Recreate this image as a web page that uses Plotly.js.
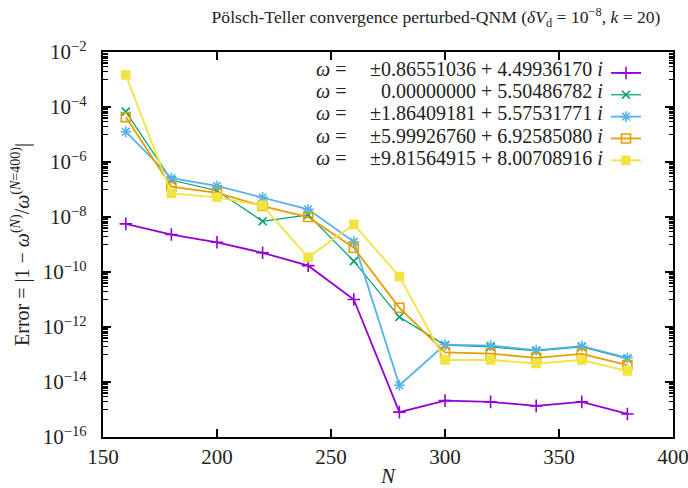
<!DOCTYPE html>
<html>
<head>
<meta charset="utf-8">
<script src="https://cdn.plot.ly/plotly-3.0.1.min.js"></script>
<style>
  html, body { margin: 0; padding: 0; background: #fff; }
  #chart { width: 688px; height: 488px; }
</style>
</head>
<body>
<div id="chart"></div>
<script>
// Resolution N of the spectral grid
const resolutions = [160, 180, 200, 220, 240, 260, 280, 300, 320, 340, 360, 380];

// Relative error |1 - w(N)/w(N=400)| for each tracked overtone
const errMode1 = [5.6e-9, 2.3e-9, 1.2e-9, 5.0e-10, 1.7e-10, 1.0e-11, 8.0e-16, 2.1e-15, 1.9e-15, 1.35e-15, 1.9e-15, 6.9e-16];
const errMode2 = [6.8e-5, 2.2e-7, 9.0e-8, 7.0e-9, 1.2e-8, 2.5e-10, 2.3e-12, 2.2e-13, 1.9e-13, 1.35e-13, 1.9e-13, 7.0e-14];
const errMode3 = [1.26e-5, 2.6e-7, 1.35e-7, 5.2e-8, 1.9e-8, 1.26e-9, 7.6e-15, 2.3e-13, 2.1e-13, 1.45e-13, 2.0e-13, 7.6e-14];
const errMode4 = [4.3e-5, 1.26e-7, 7.6e-8, 2.5e-8, 1.0e-8, 7.6e-10, 5.0e-12, 1.2e-13, 1.07e-13, 7.6e-14, 1.05e-13, 4.1e-14];
const errMode5 = [1.45e-3, 7.2e-8, 5.2e-8, 2.6e-8, 3.4e-10, 5.4e-9, 6.9e-11, 6.3e-14, 6.3e-14, 4.7e-14, 6.3e-14, 2.5e-14];

// Reference frequencies (real part, imaginary part)
const modeReal = ["\u00b10.86551036", "0.00000000", "\u00b11.86409181", "\u00b15.99926760", "\u00b19.81564915"];
const modeImag = ["4.49936170", "5.50486782", "5.57531771", "6.92585080", "8.00708916"];

// Axis ticks
const xTicks = [150, 200, 250, 300, 350, 400];
const yTickVals = [1e-16, 1e-14, 1e-12, 1e-10, 1e-8, 1e-6, 1e-4, 1e-2];
const yTickText = ["10<sup>\u221216</sup>", "10<sup>\u221214</sup>", "10<sup>\u221212</sup>", "10<sup>\u221210</sup>",
                   "10<sup>\u22128</sup>", "10<sup>\u22126</sup>", "10<sup>\u22124</sup>", "10<sup>\u22122</sup>"];

const W = 688, H = 488;
const M = { l: 103, r: 15, t: 52, b: 51 };
const PW = W - M.l - M.r, PH = H - M.t - M.b;
const px = x => (x - M.l) / PW;          // pixel -> paper x
const py = y => 1 - (y - M.t) / PH;      // pixel -> paper y

const SERIF = "'Liberation Serif', 'Times New Roman', serif";
const INK = "#222";
const X_RANGE = [150, 400];
const Y_RANGE = [-16, -2];

const styles = [
  { color: "#9400d3", symbol: "cross-thin-open", size: 9, lw: 1.8 },
  { color: "#009e73", symbol: "x-thin-open", size: 8, lw: 1.2 },
  { color: "#56b4e9", symbol: "asterisk-open", size: 9, lw: 1.8 },
  { color: "#e69f00", symbol: "square-open", size: 9, lw: 1.8 },
  { color: "#f0e442", symbol: "square", size: 8, lw: 1.8 }
];
const series = [errMode1, errMode2, errMode3, errMode4, errMode5];

const traces = series.map((ys, i) => ({
  type: "scatter",
  mode: "lines+markers",
  x: resolutions,
  y: ys,
  name: " ",
  line: { color: styles[i].color, width: styles[i].lw },
  marker: {
    symbol: styles[i].symbol,
    size: styles[i].size,
    color: styles[i].color,
    line: { color: styles[i].color, width: 1.6 }
  },
  hovertemplate: "N=%{x}<br>%{y:.2e}<extra></extra>"
}));

// minor y ticks: 1..9 x 10^(m+1) in the upper decade of each labelled interval
const minorY = [];
for (let m = -16; m < -2; m += 2) {
  for (let k = 1; k <= 9; k++) minorY.push(k * Math.pow(10, m + 1));
}

// legend labels, drawn next to the legend samples
const rowY = [69, 91, 113.3, 136, 158.3];
const annotations = [];
modeReal.forEach((re, i) => {
  annotations.push({
    xref: "paper", yref: "paper", x: px(314), y: py(rowY[i]),
    xanchor: "left", yanchor: "middle", showarrow: false,
    text: "<i>\u03c9</i> =",
    font: { family: SERIF, size: 20, color: INK }
  });
  annotations.push({
    xref: "paper", yref: "paper", x: px(605), y: py(rowY[i]),
    xanchor: "right", yanchor: "middle", showarrow: false,
    text: re + " + " + modeImag[i] + " <i>i</i>",
    font: { family: SERIF, size: 20, color: INK }
  });
});

// frame + labels on the main axes; tick marks live on label-free overlay axes
const axisCommon = {
  showline: true, linecolor: "#000", linewidth: 1.6, mirror: true,
  ticks: "", showgrid: false, zeroline: false,
  tickfont: { family: SERIF, size: 21, color: INK }
};

function tickAxis(base, extra) {
  return Object.assign({
    showline: true, linecolor: "#000", linewidth: 1.6,
    showgrid: false, zeroline: false, showticklabels: false,
    ticks: "inside", tickcolor: "#000", tickmode: "array"
  }, base, extra);
}
const xTickBase = { range: X_RANGE, overlaying: "x", tickvals: xTicks, ticklen: 8, tickwidth: 1.6 };
const yMajorBase = { type: "log", range: Y_RANGE, overlaying: "y", tickvals: yTickVals, ticklen: 8, tickwidth: 1.6 };
const yMinorBase = { type: "log", range: Y_RANGE, overlaying: "y", tickvals: minorY, ticklen: 4.5, tickwidth: 1.3 };

const layout = {
  width: W, height: H,
  margin: M,
  paper_bgcolor: "#fff", plot_bgcolor: "#fff",
  showlegend: true,
  legend: {
    x: px(606), y: py(57), xanchor: "left", yanchor: "top",
    bgcolor: "rgba(0,0,0,0)", borderwidth: 0,
    font: { family: SERIF, size: 14.5 }, itemwidth: 30
  },
  title: {
    text: "P\u00f6lsch-Teller convergence perturbed-QNM (<i>\u03b4V</i><sub>d</sub> = 10<sup>\u22128</sup>, <i>k</i> = 20)",
    font: { family: SERIF, size: 17.6, color: INK },
    x: px(436), xanchor: "center", xref: "paper",
    y: 1 - 17 / H, yanchor: "middle"
  },
  xaxis: Object.assign({}, axisCommon, {
    range: X_RANGE,
    tickmode: "array", tickvals: xTicks,
    ticklabeloverflow: "allow",
    title: { text: "<i>N</i>", font: { family: SERIF, size: 21, color: INK }, standoff: 2 }
  }),
  yaxis: Object.assign({}, axisCommon, {
    type: "log",
    range: Y_RANGE,
    tickmode: "array", tickvals: yTickVals, ticktext: yTickText.map(t => t + "\u2002"),
    title: {
      text: "Error = |1 \u2212 <i>\u03c9</i><sup>(<i>N</i>)</sup>/<i>\u03c9</i><sup>(<i>N</i>=400)</sup>|",
      font: { family: SERIF, size: 20, color: INK }, standoff: 8
    }
  }),
  xaxis2: tickAxis(xTickBase, { side: "bottom" }),
  xaxis3: tickAxis(xTickBase, { side: "top" }),
  yaxis2: tickAxis(yMinorBase, { side: "left" }),
  yaxis3: tickAxis(yMinorBase, { side: "right" }),
  yaxis4: tickAxis(yMajorBase, { side: "left" }),
  yaxis5: tickAxis(yMajorBase, { side: "right" }),
  annotations: annotations
};

// empty carriers so every overlay tick axis gets drawn
[["x2", "y"], ["x3", "y"], ["x", "y2"], ["x", "y3"], ["x", "y4"], ["x", "y5"]].forEach(([xa, ya]) => {
  traces.push({ type: "scatter", x: [null], y: [null], xaxis: xa, yaxis: ya, showlegend: false, hoverinfo: "skip" });
});

Plotly.newPlot("chart", traces, layout, { displayModeBar: false, staticPlot: true });
</script>
</body>
</html>
